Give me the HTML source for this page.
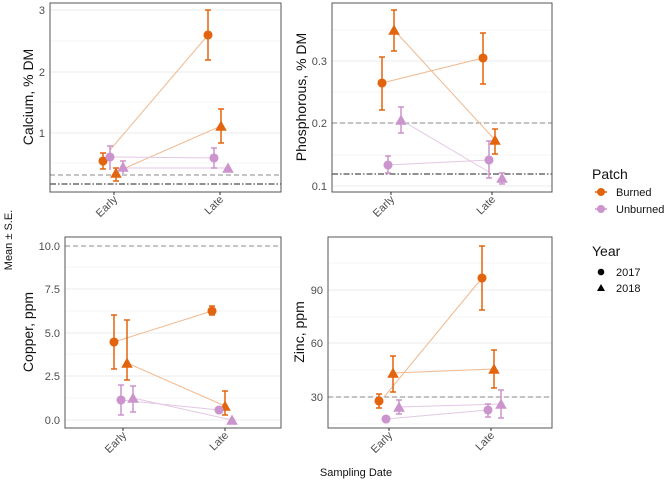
<!DOCTYPE html>
<html><head><meta charset="utf-8"><style>
html,body{margin:0;padding:0;background:#fff}
svg{display:block;font-family:"Liberation Sans",sans-serif}
.g{stroke:#ebebeb;stroke-width:1}
.gm{stroke:#f3f3f3;stroke-width:.7}
.fr{fill:none;stroke:#555;stroke-width:1}
.tl{font-size:11px;fill:#4d4d4d}
.at{font-size:14px;fill:#111}
.o{stroke:#e3640e;stroke-width:1.5;fill:#e3640e}
.p{stroke:#cc94cc;stroke-width:1.5;fill:#cc94cc}
.lo{stroke:#f0b98f;stroke-width:1;fill:none}
.lp{stroke:#e2c8e4;stroke-width:1;fill:none}
.dh{stroke:#8a8a8a;stroke-dasharray:5,3;stroke-width:1}
.dd{stroke:#222;stroke-dasharray:6,2,1.5,2;stroke-width:1}
</style></head><body>
<svg width="666" height="481" viewBox="0 0 666 481">
<!-- Panel 1 Calcium -->
<g>
<line class="gm" x1="50" x2="281" y1="41" y2="41"/><line class="gm" x1="50" x2="281" y1="102" y2="102"/><line class="gm" x1="50" x2="281" y1="163" y2="163"/>
<line class="g" x1="50" x2="281" y1="10" y2="10"/><line class="g" x1="50" x2="281" y1="72" y2="72"/><line class="g" x1="50" x2="281" y1="133" y2="133"/>
<line class="dh" x1="50" x2="281" y1="175" y2="175"/><line class="dd" x1="50" x2="281" y1="184" y2="184"/>
<polyline class="lo" points="110,150 208,35"/><polyline class="lo" points="116,172 221,126"/>
<polyline class="lp" points="110,157 214,158"/><polyline class="lp" points="123,168 228,168"/>
<g class="o"><line x1="103" x2="103" y1="153" y2="169"/><line x1="100" x2="106" y1="153" y2="153"/><line x1="100" x2="106" y1="169" y2="169"/><circle cx="103" cy="161" r="3.8"/>
<line x1="116" x2="116" y1="168" y2="181"/><line x1="113" x2="119" y1="168" y2="168"/><line x1="113" x2="119" y1="181" y2="181"/><polygon points="116,169 120.5,177 111.5,177"/>
<line x1="208" x2="208" y1="10" y2="60"/><line x1="205" x2="211" y1="10" y2="10"/><line x1="205" x2="211" y1="60" y2="60"/><circle cx="208" cy="35" r="3.8"/>
<line x1="221" x2="221" y1="109" y2="143"/><line x1="218" x2="224" y1="109" y2="109"/><line x1="218" x2="224" y1="143" y2="143"/><polygon points="221,122 225.5,130 216.5,130"/></g>
<g class="p"><line x1="110" x2="110" y1="146" y2="170"/><line x1="107" x2="113" y1="146" y2="146"/><circle cx="110" cy="157" r="3.8"/>
<line x1="123" x2="123" y1="161" y2="174"/><line x1="120" x2="126" y1="161" y2="161"/><polygon points="123,163 127.5,171 118.5,171"/>
<line x1="214" x2="214" y1="148" y2="168"/><line x1="211" x2="217" y1="148" y2="148"/><line x1="211" x2="217" y1="168" y2="168"/><circle cx="214" cy="158" r="3.8"/>
<polygon points="228,164 232.5,172 223.5,172"/></g>
<rect class="fr" x="50" y="3" width="231" height="189"/>
<text class="tl" x="45" y="14" text-anchor="end">3</text><text class="tl" x="45" y="76" text-anchor="end">2</text><text class="tl" x="45" y="137" text-anchor="end">1</text>
<line x1="114" x2="114" y1="192" y2="195" stroke="#333"/><line x1="220" x2="220" y1="192" y2="195" stroke="#333"/>
<text class="tl" transform="translate(118,200) rotate(-45)" text-anchor="end">Early</text>
<text class="tl" transform="translate(224,200) rotate(-45)" text-anchor="end">Late</text>
<text class="at" transform="translate(33,97) rotate(-90)" text-anchor="middle">Calcium, % DM</text>
</g>
<!-- Panel 2 Phosphorous -->
<g>
<line class="gm" x1="332" x2="552" y1="30" y2="30"/><line class="gm" x1="332" x2="552" y1="92" y2="92"/><line class="gm" x1="332" x2="552" y1="155" y2="155"/>
<line class="g" x1="332" x2="552" y1="61" y2="61"/><line class="g" x1="332" x2="552" y1="123" y2="123"/><line class="g" x1="332" x2="552" y1="186" y2="186"/>
<line class="dh" x1="332" x2="552" y1="123" y2="123"/><line class="dd" x1="332" x2="552" y1="174" y2="174"/>
<polyline class="lo" points="382,83 483,58"/><polyline class="lo" points="394,30 495,140"/>
<polyline class="lp" points="388,165 489,160"/><polyline class="lp" points="401,120 489,172"/>
<g class="o"><line x1="382" x2="382" y1="57" y2="110"/><line x1="379" x2="385" y1="57" y2="57"/><line x1="379" x2="385" y1="110" y2="110"/><circle cx="382" cy="83" r="3.8"/>
<line x1="394" x2="394" y1="10" y2="51"/><line x1="391" x2="397" y1="10" y2="10"/><line x1="391" x2="397" y1="51" y2="51"/><polygon points="394,26 398.5,34 389.5,34"/>
<line x1="483" x2="483" y1="33" y2="84"/><line x1="480" x2="486" y1="33" y2="33"/><line x1="480" x2="486" y1="84" y2="84"/><circle cx="483" cy="58" r="3.8"/>
<line x1="495" x2="495" y1="129" y2="154"/><line x1="492" x2="498" y1="129" y2="129"/><line x1="492" x2="498" y1="154" y2="154"/><polygon points="495,136 499.5,144 490.5,144"/></g>
<g class="p"><line x1="388" x2="388" y1="156" y2="173"/><line x1="385" x2="391" y1="156" y2="156"/><line x1="385" x2="391" y1="173" y2="173"/><circle cx="388" cy="165" r="3.8"/>
<line x1="401" x2="401" y1="107" y2="133"/><line x1="398" x2="404" y1="107" y2="107"/><line x1="398" x2="404" y1="133" y2="133"/><polygon points="401,116 405.5,124 396.5,124"/>
<line x1="489" x2="489" y1="141" y2="178"/><line x1="486" x2="492" y1="141" y2="141"/><line x1="486" x2="492" y1="178" y2="178"/><circle cx="489" cy="160" r="3.8"/>
<line x1="502" x2="502" y1="173" y2="184"/><line x1="499" x2="505" y1="173" y2="173"/><line x1="499" x2="505" y1="184" y2="184"/><polygon points="502,174 506.5,182 497.5,182"/></g>
<rect class="fr" x="332" y="3" width="220" height="189"/>
<text class="tl" x="327" y="65" text-anchor="end">0.3</text><text class="tl" x="327" y="127" text-anchor="end">0.2</text><text class="tl" x="327" y="190" text-anchor="end">0.1</text>
<line x1="391" x2="391" y1="192" y2="195" stroke="#333"/><line x1="492" x2="492" y1="192" y2="195" stroke="#333"/>
<text class="tl" transform="translate(395,200) rotate(-45)" text-anchor="end">Early</text>
<text class="tl" transform="translate(496,200) rotate(-45)" text-anchor="end">Late</text>
<text class="at" transform="translate(306,97) rotate(-90)" text-anchor="middle">Phosphorous, % DM</text>
</g>
<!-- Panel 3 Copper -->
<g>
<line class="gm" x1="65" x2="281" y1="267" y2="267"/><line class="gm" x1="65" x2="281" y1="311" y2="311"/><line class="gm" x1="65" x2="281" y1="354" y2="354"/><line class="gm" x1="65" x2="281" y1="398" y2="398"/>
<line class="g" x1="65" x2="281" y1="289" y2="289"/><line class="g" x1="65" x2="281" y1="333" y2="333"/><line class="g" x1="65" x2="281" y1="376" y2="376"/><line class="g" x1="65" x2="281" y1="420" y2="420"/>
<line class="dh" x1="65" x2="281" y1="246" y2="246"/>
<polyline class="lo" points="114,342 212,311"/><polyline class="lo" points="127,363 225,406"/>
<polyline class="lp" points="121,400 219,410"/><polyline class="lp" points="133,398 232,420"/>
<g class="o"><line x1="114" x2="114" y1="315" y2="369"/><line x1="111" x2="117" y1="315" y2="315"/><line x1="111" x2="117" y1="369" y2="369"/><circle cx="114" cy="342" r="3.8"/>
<line x1="127" x2="127" y1="320" y2="380"/><line x1="124" x2="130" y1="320" y2="320"/><line x1="124" x2="130" y1="380" y2="380"/><polygon points="127,359 131.5,367 122.5,367"/>
<line x1="212" x2="212" y1="306" y2="315"/><line x1="209" x2="215" y1="306" y2="306"/><line x1="209" x2="215" y1="315" y2="315"/><circle cx="212" cy="311" r="3.8"/>
<line x1="225" x2="225" y1="391" y2="415"/><line x1="222" x2="228" y1="391" y2="391"/><line x1="222" x2="228" y1="415" y2="415"/><polygon points="225,402 229.5,410 220.5,410"/></g>
<g class="p"><line x1="121" x2="121" y1="385" y2="415"/><line x1="118" x2="124" y1="385" y2="385"/><line x1="118" x2="124" y1="415" y2="415"/><circle cx="121" cy="400" r="3.8"/>
<line x1="133" x2="133" y1="386" y2="412"/><line x1="130" x2="136" y1="386" y2="386"/><line x1="130" x2="136" y1="412" y2="412"/><polygon points="133,394 137.5,402 128.5,402"/>
<circle cx="219" cy="410" r="3.8"/><polygon points="232,416 236.5,424 227.5,424"/></g>
<rect class="fr" x="65" y="237" width="216" height="191"/>
<text class="tl" x="60" y="250" text-anchor="end">10.0</text><text class="tl" x="60" y="293" text-anchor="end">7.5</text><text class="tl" x="60" y="337" text-anchor="end">5.0</text><text class="tl" x="60" y="380" text-anchor="end">2.5</text><text class="tl" x="60" y="424" text-anchor="end">0.0</text>
<line x1="123" x2="123" y1="428" y2="431" stroke="#333"/><line x1="225" x2="225" y1="428" y2="431" stroke="#333"/>
<text class="tl" transform="translate(127,436) rotate(-45)" text-anchor="end">Early</text>
<text class="tl" transform="translate(229,436) rotate(-45)" text-anchor="end">Late</text>
<text class="at" transform="translate(33,332) rotate(-90)" text-anchor="middle">Copper, ppm</text>
</g>
<!-- Panel 4 Zinc -->
<g>
<line class="gm" x1="328" x2="552" y1="263" y2="263"/><line class="gm" x1="328" x2="552" y1="317" y2="317"/><line class="gm" x1="328" x2="552" y1="370" y2="370"/><line class="gm" x1="328" x2="552" y1="424" y2="424"/>
<line class="g" x1="328" x2="552" y1="290" y2="290"/><line class="g" x1="328" x2="552" y1="343" y2="343"/><line class="g" x1="328" x2="552" y1="397" y2="397"/>
<line class="dh" x1="328" x2="552" y1="397" y2="397"/>
<polyline class="lo" points="384,397 482,278"/><polyline class="lo" points="393,373 494,369"/>
<polyline class="lp" points="386,419 488,410"/><polyline class="lp" points="399,407 501,404"/>
<g class="o"><line x1="379" x2="379" y1="394" y2="408"/><line x1="376" x2="382" y1="394" y2="394"/><line x1="376" x2="382" y1="408" y2="408"/><circle cx="379" cy="401" r="3.8"/>
<line x1="393" x2="393" y1="356" y2="392"/><line x1="390" x2="396" y1="356" y2="356"/><line x1="390" x2="396" y1="392" y2="392"/><polygon points="393,369 397.5,377 388.5,377"/>
<line x1="482" x2="482" y1="246" y2="310"/><line x1="479" x2="485" y1="246" y2="246"/><line x1="479" x2="485" y1="310" y2="310"/><circle cx="482" cy="278" r="3.8"/>
<line x1="494" x2="494" y1="350" y2="388"/><line x1="491" x2="497" y1="350" y2="350"/><line x1="491" x2="497" y1="388" y2="388"/><polygon points="494,365 498.5,373 489.5,373"/></g>
<g class="p"><circle cx="386" cy="419" r="3.8"/>
<line x1="399" x2="399" y1="400" y2="414"/><line x1="396" x2="402" y1="400" y2="400"/><line x1="396" x2="402" y1="414" y2="414"/><polygon points="399,403 403.5,411 394.5,411"/>
<line x1="488" x2="488" y1="404" y2="417"/><line x1="485" x2="491" y1="404" y2="404"/><line x1="485" x2="491" y1="417" y2="417"/><circle cx="488" cy="410" r="3.8"/>
<line x1="501" x2="501" y1="390" y2="418"/><line x1="498" x2="504" y1="390" y2="390"/><line x1="498" x2="504" y1="418" y2="418"/><polygon points="501,400 505.5,408 496.5,408"/></g>
<rect class="fr" x="328" y="237" width="224" height="191"/>
<text class="tl" x="323" y="294" text-anchor="end">90</text><text class="tl" x="323" y="347" text-anchor="end">60</text><text class="tl" x="323" y="401" text-anchor="end">30</text>
<line x1="389" x2="389" y1="428" y2="431" stroke="#333"/><line x1="491" x2="491" y1="428" y2="431" stroke="#333"/>
<text class="tl" transform="translate(393,436) rotate(-45)" text-anchor="end">Early</text>
<text class="tl" transform="translate(495,436) rotate(-45)" text-anchor="end">Late</text>
<text class="at" transform="translate(304,332) rotate(-90)" text-anchor="middle">Zinc, ppm</text>
</g>
<!-- shared labels -->
<text transform="translate(12,240) rotate(-90)" text-anchor="middle" font-size="11" fill="#111">Mean ± S.E.</text>
<text x="356" y="476" text-anchor="middle" font-size="11" fill="#111">Sampling Date</text>
<!-- legends -->
<text x="592" y="179" font-size="14" fill="#111">Patch</text>
<line x1="595" x2="607" y1="192" y2="192" stroke="#e3640e" stroke-width="1.5"/><circle cx="601" cy="192" r="4" fill="#e3640e"/>
<text x="616" y="196" font-size="11" fill="#111">Burned</text>
<line x1="595" x2="607" y1="209" y2="209" stroke="#cc94cc" stroke-width="1.5"/><circle cx="601" cy="209" r="4" fill="#cc94cc"/>
<text x="616" y="213" font-size="11" fill="#111">Unburned</text>
<text x="592" y="256" font-size="14" fill="#111">Year</text>
<circle cx="601" cy="272" r="3.3" fill="#000"/>
<text x="616" y="276" font-size="11" fill="#111">2017</text>
<polygon points="601,284 605,291 597,291" fill="#000"/>
<text x="616" y="292" font-size="11" fill="#111">2018</text>
</svg>
</body></html>
